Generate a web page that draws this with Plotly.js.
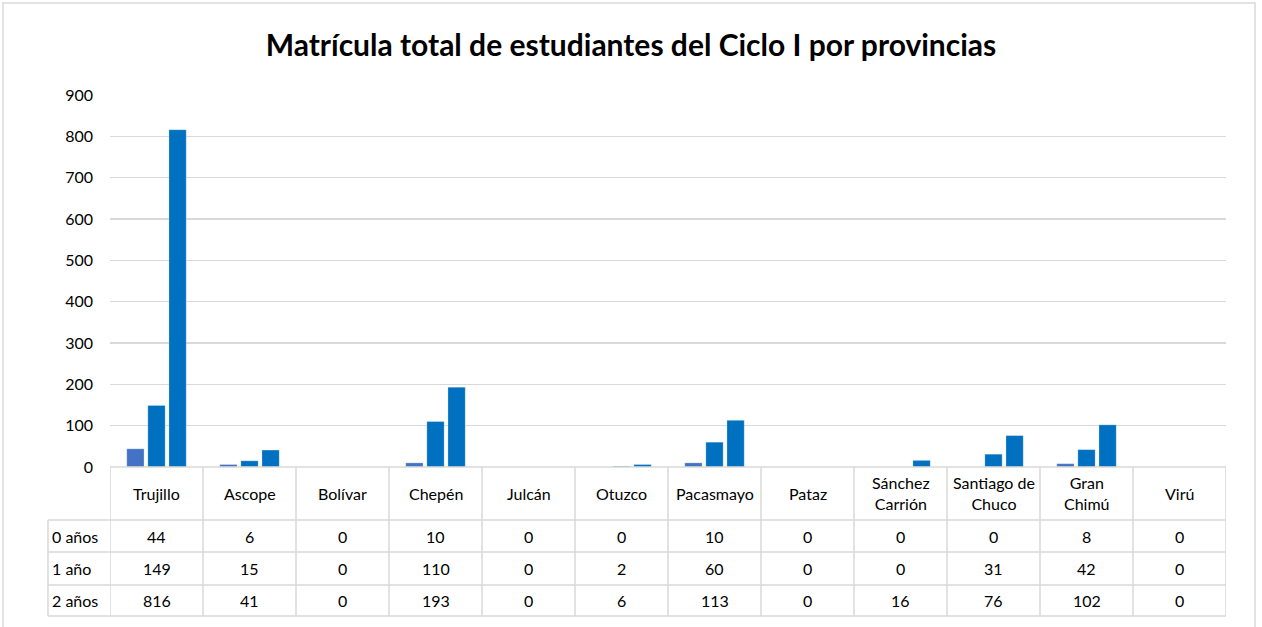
<!DOCTYPE html>
<html><head><meta charset="utf-8">
<script src="https://cdn.plot.ly/plotly-3.0.1.min.js"></script>
<style>body{margin:0;background:#fff}#chart{width:1262px;height:627px}</style>
</head><body><div id="chart"></div>
<script>
const categories = ["Trujillo","Ascope","Bolívar","Chepén","Julcán","Otuzco","Pacasmayo","Pataz","Sánchez Carrión","Santiago de Chuco","Gran Chimú","Virú"];
const headerLabels = ["Trujillo","Ascope","Bolívar","Chepén","Julcán","Otuzco","Pacasmayo","Pataz","Sánchez<br>Carrión","Santiago de<br>Chuco","Gran<br>Chimú","Virú"];
const seriesNames = ["0 años","1 año","2 años"];
const age0 = [44,6,0,10,0,0,10,0,0,0,8,0];
const age1 = [149,15,0,110,0,2,60,0,0,31,42,0];
const age2 = [816,41,0,193,0,6,113,0,16,76,102,0];
const yTicks = [0,100,200,300,400,500,600,700,800,900];

const series = [age0, age1, age2];
const colors = ["#4472C4","#0070C0","#0070C0"];
const FONT = "Lato, 'Open Sans', sans-serif";

// pixel helpers (plot area: x 110..1226, y 95..467)
const L=110, R=1226, T=95, B=467;
const px = p => (p-L)/(R-L);
const py = p => (B-p)/(B-T);

const traces = series.map((s,i)=>({
  type:"bar", name:seriesNames[i], x:categories, y:s,
  marker:{color:colors[i], line:{color:"rgba(255,255,255,0.5)", width:0.5}},
  hoverinfo:"x+y+name"
}));

const lineColor = "#d9d9d9";
const shapes = [];
const rowY = [520,552,585,616];
rowY.forEach(y=>shapes.push({type:"line",xref:"paper",yref:"paper",x0:px(48),x1:1,y0:py(y),y1:py(y),line:{color:lineColor,width:1.5}}));
shapes.push({type:"line",xref:"paper",yref:"paper",x0:0,x1:1,y0:0,y1:0,line:{color:lineColor,width:1.5}});
for(let i=0;i<=categories.length;i++){
  shapes.push({type:"line",xref:"x",yref:"paper",x0:i-0.5,x1:i-0.5,y0:0,y1:py(616),line:{color:lineColor,width:1.5}});
}
shapes.push({type:"line",xref:"paper",yref:"paper",x0:px(48),x1:px(48),y0:py(520),y1:py(616),line:{color:lineColor,width:1.5}});
shapes.push({type:"rect",xref:"paper",yref:"paper",x0:px(3),x1:px(1255),y0:py(640),y1:py(3),line:{color:lineColor,width:1.5}});

const annotations = [];
const cellFont = {family:FONT,size:16,color:"#000"};
const hdrY = py(493);
categories.forEach((c,i)=>{
  annotations.push({xref:"x",yref:"paper",x:i,y:hdrY,yanchor:"middle",xanchor:"center",text:headerLabels[i],showarrow:false,font:cellFont,align:"center"});
});
const rowCenters = [536,568,600];
series.forEach((s,r)=>{
  annotations.push({xref:"paper",yref:"paper",x:px(50),y:py(rowCenters[r]),xanchor:"left",yanchor:"middle",text:seriesNames[r],showarrow:false,font:cellFont});
  s.forEach((v,i)=>{
    annotations.push({xref:"x",yref:"paper",x:i,y:py(rowCenters[r]),xanchor:"center",yanchor:"middle",text:String(v),showarrow:false,font:cellFont});
  });
});

const layout = {
  width:1262, height:627,
  margin:{l:L, r:1262-R, t:T, b:627-B, pad:0},
  paper_bgcolor:"#fff", plot_bgcolor:"#fff",
  title:{text:"<b>Matrícula total de estudiantes del Ciclo I por provincias</b>", font:{family:FONT,size:30,color:"#000"}, x:0.5, xanchor:"center", y:1-45/627, yanchor:"middle"},
  showlegend:false,
  barmode:"group", bargap:0.32, bargroupgap:0.18,
  xaxis:{type:"category", showticklabels:false, showgrid:false, zeroline:false, showline:false, ticks:"", range:[-0.5,11.5]},
  yaxis:{range:[0,900], tickvals:yTicks, ticktext:yTicks.map(String), showgrid:true, gridcolor:lineColor, gridwidth:1.5, zeroline:false, showline:false, ticks:"", ticklen:0, tickfont:{family:FONT,size:16,color:"#000"}, automargin:false, ticklabelstandoff:16},
  shapes:shapes, annotations:annotations
};
Plotly.newPlot("chart", traces, layout, {displayModeBar:false, staticPlot:true});
</script></body></html>
